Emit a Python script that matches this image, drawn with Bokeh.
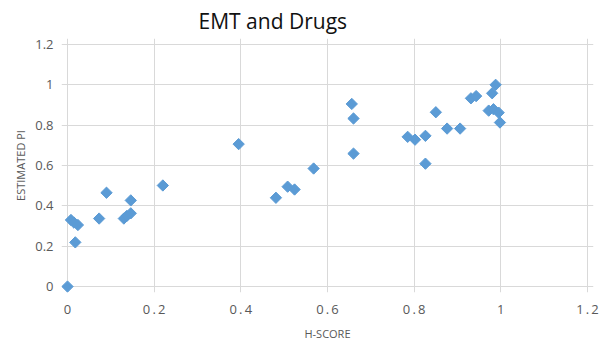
import math

from bokeh.embed import file_html
from bokeh.models import (ColumnDataSource, CustomJSTickFormatter, FixedTicker,
                          Range1d)
from bokeh.plotting import figure
from bokeh.resources import INLINE

# H-score versus estimated PI for each sample
h_score = [0.0, 0.008, 0.015, 0.024, 0.018, 0.073, 0.09, 0.13, 0.137, 0.146,
           0.146, 0.22, 0.395, 0.481, 0.508, 0.524, 0.568, 0.656, 0.66, 0.66,
           0.785, 0.802, 0.826, 0.826, 0.85, 0.876, 0.906, 0.931, 0.943,
           0.988, 0.98, 0.972, 0.983, 0.995, 0.998]
estimated_pi = [0.0, 0.33, 0.317, 0.305, 0.219, 0.337, 0.465, 0.337, 0.35, 0.363,
                0.427, 0.501, 0.706, 0.44, 0.495, 0.481, 0.585, 0.905, 0.833, 0.659,
                0.742, 0.728, 0.747, 0.609, 0.864, 0.783, 0.783, 0.933, 0.944,
                1.0, 0.958, 0.872, 0.879, 0.862, 0.813]

x_ticks = [0, 0.2, 0.4, 0.6, 0.8, 1.0, 1.2]
y_ticks = [0, 0.2, 0.4, 0.6, 0.8, 1.0, 1.2]

TEXT = "#595959"
GRID = "#d9d9d9"
FONT = "Open Sans"

# The gridded area spans 520 x 244 px; a 6 px margin around it keeps
# markers sitting on the edges from being clipped.
PAD = 6
x_pad = 1.2 / 520 * PAD
y_pad = 1.2 / 244 * PAD

source = ColumnDataSource(dict(x=h_score, y=estimated_pi))

p = figure(width=605, height=343, output_backend="svg", toolbar_location=None,
           x_range=Range1d(-x_pad, 1.2 + x_pad),
           y_range=Range1d(-y_pad, 1.2 + y_pad),
           min_border_left=67 - PAD, min_border_right=18 - PAD,
           min_border_top=44 - PAD, min_border_bottom=55 - PAD)

p.scatter("x", "y", source=source, marker="square", size=8, angle=math.pi / 4,
          fill_color="#5B9BD5", line_color="#5B9BD5", line_width=1)

p.outline_line_color = None
p.background_fill_color = "white"
p.border_fill_color = "white"

p.title.text = "EMT and Drugs"
p.title.text_font = FONT
p.title.text_font_size = "21px"
p.title.text_font_style = "normal"
p.title.text_color = "#111111"
p.title.align = "left"
p.title.offset = 137
p.title.standoff = 7

for g in (p.xgrid, p.ygrid):
    g.grid_line_color = GRID
    g.grid_line_width = 1
    g.level = "underlay"
p.xgrid.ticker = FixedTicker(ticks=x_ticks)
p.ygrid.ticker = FixedTicker(ticks=y_ticks)

p.xaxis.ticker = FixedTicker(ticks=x_ticks)
p.yaxis.ticker = FixedTicker(ticks=y_ticks)
p.xaxis.formatter = CustomJSTickFormatter(
    code="return String(Math.round(tick * 10) / 10).split('').join('\u2009');")
p.yaxis.formatter = CustomJSTickFormatter(
    code="return String(Math.round(tick * 10) / 10);")

for ax in (p.xaxis, p.yaxis):
    ax.axis_line_color = None
    ax.major_tick_line_color = None
    ax.minor_tick_line_color = None
    ax.major_label_text_color = TEXT
    ax.major_label_text_font = FONT
    ax.major_label_text_font_size = "13px"
    ax.axis_label_text_color = TEXT
    ax.axis_label_text_font = FONT
    ax.axis_label_text_font_size = "11px"
    ax.axis_label_text_font_style = "normal"

p.xaxis.axis_label = "H-SCORE"
p.xaxis.major_label_standoff = 1
p.xaxis.axis_label_standoff = 5
p.yaxis.axis_label = "ESTIMATED PI"
p.yaxis.major_label_standoff = 2
p.yaxis.axis_label_standoff = 4

open("out.html", "w").write(file_html(p, INLINE))
